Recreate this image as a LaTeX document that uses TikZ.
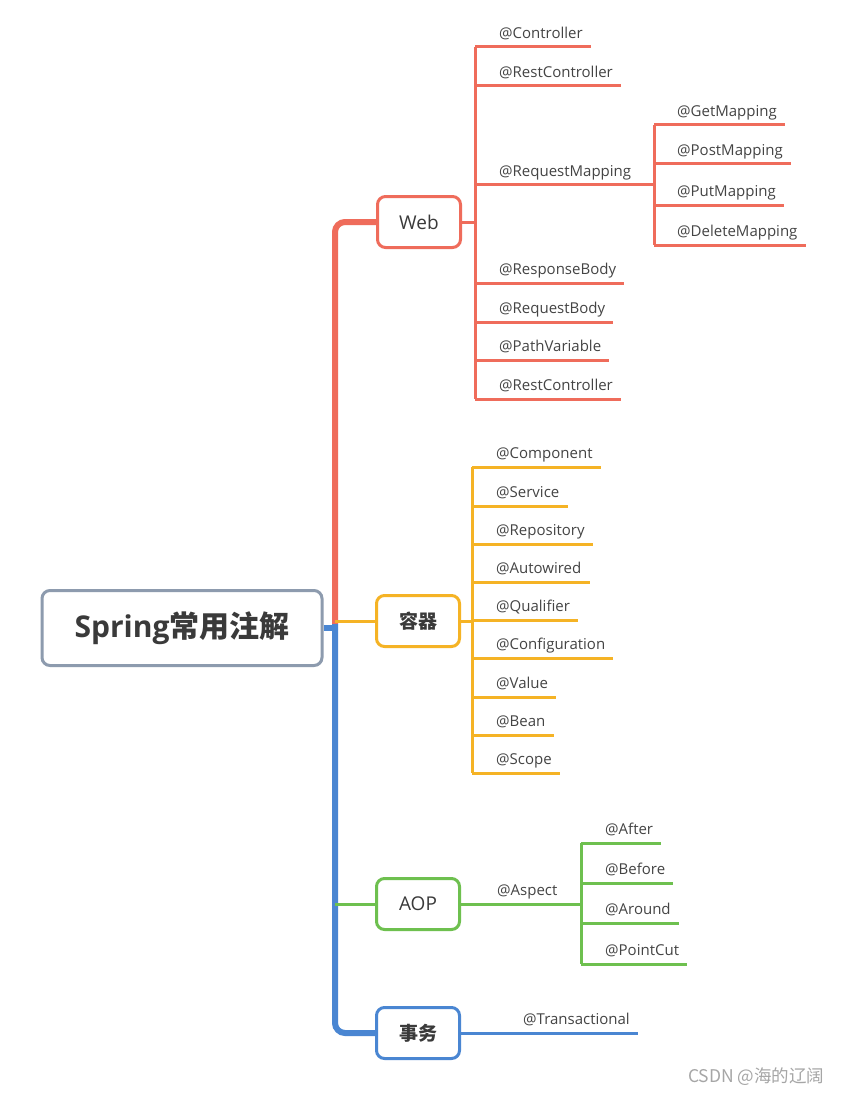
\documentclass[tikz,border=0pt]{standalone}
\usepackage{fontspec}
\setmainfont{Open Sans}
\newfontfamily\cjk{Noto Sans CJK SC}
\definecolor{webred}{HTML}{EF6C5B}
\definecolor{boxorange}{HTML}{F5B325}
\definecolor{aopgreen}{HTML}{6EC04F}
\definecolor{txblue}{HTML}{4A86D2}
\definecolor{rootgray}{HTML}{8D9BAE}
\definecolor{textgray}{HTML}{3A3A3A}
\definecolor{labelgray}{HTML}{444444}
\tikzset{
	topic/.style={draw=#1,line width=3pt,rounded corners=8pt,fill=white,minimum width=83pt,minimum height=51pt,text=textgray,font=\fontsize{19}{22}\selectfont},
	leaf/.style={anchor=south west,inner xsep=8pt,inner ysep=4pt,text depth=4pt,text=labelgray,font=\fontsize{15}{17}\selectfont},
	branch/.style={draw=#1,line width=3pt},
	trunk/.style={draw=#1,line width=6pt}
}
\begin{document}
\begin{tikzpicture}[x=1pt,y=-1pt]
	\useasboundingbox[fill=white] (0,0) rectangle (841,1094);

	% main topic and the four branches
	\node [draw=rootgray,line width=3pt,rounded corners=8pt,fill=white,minimum width=280pt,minimum height=75pt,text=textgray,font=\fontsize{30}{34}\selectfont\bfseries] (root) at (182,628) {Spring\cjk 常用注解};
	\node [topic=webred] (web) at (419,222) {Web};
	\node [topic=boxorange,font=\fontsize{19}{22}\selectfont\cjk\bfseries] (box) at (418,621) {容器};
	\node [topic=aopgreen] (aop) at (418,904) {AOP};
	\node [topic=txblue,font=\fontsize{19}{22}\selectfont\cjk\bfseries] (tx) at (418,1033) {事务};

	\coordinate (tk) at (335,624);
	\draw [trunk=webred,rounded corners=10pt] (web.west) -| (tk);
	\draw [trunk=txblue,rounded corners=10pt] (tk) |- (tx.west);
	\draw [trunk=txblue] (root.east) -- (tk |- root.east);
	\draw [branch=boxorange] (tk |- box.west) -- (box.west);
	\draw [branch=aopgreen] (tk |- aop.west) -- (aop.west);

	% Web
	\coordinate (wsp) at (475,222);
	\coordinate (rsp) at (654,185);
	\draw [branch=webred] (web.east) -- (wsp);
	\foreach \n/\t/\y in {ctrl/Controller/47,rc/RestController/86,resp/ResponseBody/283,reqb/RequestBody/322,pv/PathVariable/360,rc2/RestController/399}{
		\node [leaf] (\n) at (491,\y) {@\t};
		\draw [branch=webred] (wsp |- \n.south) -- (\n.south east);
	}
	\node [leaf] (req) at (491,185) {@RequestMapping};
	\draw [branch=webred] (wsp |- req.south) -- (rsp);
	\draw [branch=webred] (wsp |- ctrl.south) -- (wsp |- rc2.south);
	\foreach \n/\t/\y in {get/GetMapping/125,post/PostMapping/164,put/PutMapping/205,del/DeleteMapping/245}{
		\node [leaf] (\n) at (669,\y) {@\t};
		\draw [branch=webred] (rsp |- \n.south) -- (\n.south east);
	}
	\draw [branch=webred] (rsp |- get.south) -- (rsp |- del.south);

	% container
	\coordinate (osp) at (472,621);
	\draw [branch=boxorange] (box.east) -- (osp);
	\foreach \n/\t/\y in {comp/Component/467,svc/Service/506,repo/Repository/544,aw/Autowired/582,qual/Qualifier/620,conf/Configuration/658,val/Value/697,bean/Bean/735,scope/Scope/773}{
		\node [leaf] (\n) at (488,\y) {@\t};
		\draw [branch=boxorange] (osp |- \n.south) -- (\n.south east);
	}
	\draw [branch=boxorange] (osp |- comp.south) -- (osp |- scope.south);

	% AOP
	\coordinate (asp) at (581,904);
	\node [leaf] (aspect) at (489,904) {@Aspect};
	\draw [branch=aopgreen] (aop.east) -- (asp);
	\foreach \n/\t/\y in {after/After/843,before/Before/883,around/Around/923,pc/PointCut/964}{
		\node [leaf] (\n) at (597,\y) {@\t};
		\draw [branch=aopgreen] (asp |- \n.south) -- (\n.south east);
	}
	\draw [branch=aopgreen] (asp |- after.south) -- (asp |- pc.south);

	% transaction
	\node [leaf] (trn) at (515,1033) {@Transactional};
	\draw [branch=txblue] (tx.east) -- (trn.south east);

	\node [anchor=base east,text=gray!70,font=\fontsize{17.5}{20}\selectfont\cjk] (mark) at (828,1082) {CSDN @海的辽阔};
\end{tikzpicture}
\end{document}
